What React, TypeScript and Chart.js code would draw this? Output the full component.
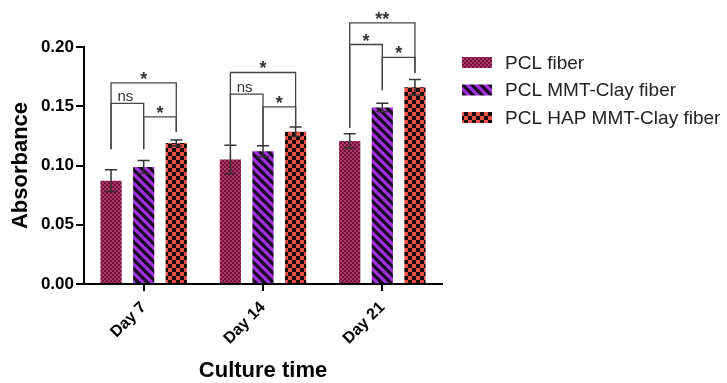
import React, { useEffect, useRef } from "react";
import { Chart, registerables } from "chart.js";

Chart.register(...registerables);

const CATEGORIES = ["Day 7", "Day 14", "Day 21"];
const SERIES_LABELS = ["PCL fiber", "PCL MMT-Clay fiber", "PCL HAP MMT-Clay fiber"];
const PCL_FIBER = [0.0872, 0.105, 0.1207];
const PCL_MMT = [0.0988, 0.112, 0.149];
const PCL_HAP = [0.119, 0.1285, 0.166];
const SD_PCL_FIBER = [0.0093, 0.012, 0.006];
const SD_PCL_MMT = [0.0055, 0.0047, 0.0035];
const SD_PCL_HAP = [0.0025, 0.004, 0.0066];
const Y_TICKS = [0, 0.05, 0.1, 0.15, 0.2];

// significance brackets (day index, from series, to series, level, label)
const BRACKET_DAY = [0, 0, 0, 1, 1, 1, 2, 2, 2];
const BRACKET_FROM = [0, 0, 1, 0, 0, 1, 0, 0, 1];
const BRACKET_TO = [2, 1, 2, 2, 1, 2, 2, 1, 2];
const BRACKET_LEVEL = [0.1697, 0.1524, 0.1411, 0.1785, 0.1602, 0.1495, 0.2203, 0.2021, 0.1912];
const BRACKET_LABEL = ["*", "ns", "*", "*", "ns", "*", "**", "*", "*"];
const LEG_BOTTOM_DAY7 = [0.1138, 0.1138, 0.1284];
const LEG_BOTTOM_DAY14 = [0.1172, 0.1172, 0.1332];
const LEG_BOTTOM_DAY21 = [0.1318, 0.1636, 0.1782];

const FONT = "'Liberation Sans', Arial, Helvetica, sans-serif";

function makePattern(kind: string): CanvasPattern | string {
  const c = document.createElement("canvas");
  const ctx = c.getContext("2d");
  if (!ctx) return "#888";
  if (kind === "fine") {
    c.width = 4; c.height = 4;
    ctx.fillStyle = "#6e0e3b";
    ctx.fillRect(0, 0, 4, 4);
    ctx.fillStyle = "#b3356a";
    ctx.fillRect(0, 0, 2, 2);
    ctx.fillRect(2, 2, 2, 2);
  } else if (kind === "stripe") {
    const s = 9;
    c.width = s; c.height = s;
    ctx.fillStyle = "#a32fe0";
    ctx.fillRect(0, 0, s, s);
    ctx.strokeStyle = "#1a0a22";
    ctx.lineWidth = 3.2;
    for (let k = -1; k <= 1; k++) {
      ctx.beginPath();
      ctx.moveTo(k * s - 2, -2);
      ctx.lineTo(k * s + s + 2, s + 2);
      ctx.stroke();
    }
  } else {
    c.width = 8; c.height = 8;
    ctx.fillStyle = "#ea4f47";
    ctx.fillRect(0, 0, 8, 8);
    ctx.fillStyle = "#1a0505";
    ctx.fillRect(0, 0, 4, 4);
    ctx.fillRect(4, 4, 4, 4);
  }
  return ctx.createPattern(c, "repeat") || "#888";
}

export default function App() {
  const ref = useRef<HTMLCanvasElement | null>(null);

  useEffect(() => {
    if (!ref.current) return;
    const patterns = [makePattern("fine"), makePattern("stripe"), makePattern("check")];
    const values = [PCL_FIBER, PCL_MMT, PCL_HAP];
    const sds = [SD_PCL_FIBER, SD_PCL_MMT, SD_PCL_HAP];
    const legBottoms = [LEG_BOTTOM_DAY7, LEG_BOTTOM_DAY14, LEG_BOTTOM_DAY21];

    const errorBars = {
      id: "errorBars",
      afterDatasetsDraw(chart: any) {
        const ctx = chart.ctx;
        const y = chart.scales.y;
        ctx.save();
        ctx.strokeStyle = "#333";
        ctx.lineWidth = 1.5;
        for (let d = 0; d < values.length; d++) {
          const meta = chart.getDatasetMeta(d);
          meta.data.forEach((bar: any, i: number) => {
            const v = values[d][i];
            const e = sds[d][i];
            const yt = y.getPixelForValue(v + e);
            const yb = y.getPixelForValue(v - e);
            const x = bar.x;
            ctx.beginPath();
            ctx.moveTo(x, yt); ctx.lineTo(x, yb);
            ctx.moveTo(x - 6, yt); ctx.lineTo(x + 6, yt);
            ctx.moveTo(x - 6, yb); ctx.lineTo(x + 6, yb);
            ctx.stroke();
          });
        }
        ctx.restore();
      },
    };

    const brackets = {
      id: "brackets",
      afterDraw(chart: any) {
        const ctx = chart.ctx;
        const y = chart.scales.y;
        ctx.save();
        ctx.strokeStyle = "#444";
        ctx.fillStyle = "#333";
        ctx.lineWidth = 1.3;
        for (let b = 0; b < BRACKET_DAY.length; b++) {
          const day = BRACKET_DAY[b];
          const f = BRACKET_FROM[b];
          const t = BRACKET_TO[b];
          const x1 = chart.getDatasetMeta(f).data[day].x;
          const x2 = chart.getDatasetMeta(t).data[day].x;
          const yl = y.getPixelForValue(BRACKET_LEVEL[b]);
          const yb1 = y.getPixelForValue(legBottoms[day][f]);
          const yb2 = y.getPixelForValue(legBottoms[day][t]);
          ctx.beginPath();
          ctx.moveTo(x1, yb1);
          ctx.lineTo(x1, yl);
          ctx.lineTo(x2, yl);
          ctx.lineTo(x2, yb2);
          ctx.stroke();
          const lab = BRACKET_LABEL[b];
          ctx.textAlign = "center";
          ctx.textBaseline = "alphabetic";
          if (lab === "ns") {
            ctx.font = `15px ${FONT}`;
            ctx.fillText(lab, (x1 + x2) / 2 - 2, yl - 2);
          } else {
            ctx.font = `bold 18px ${FONT}`;
            ctx.fillText(lab, (x1 + x2) / 2, yl + 2);
          }
        }
        ctx.restore();
      },
    };

    const legend = {
      id: "sideLegend",
      afterDraw(chart: any) {
        const ctx = chart.ctx;
        const left = chart.chartArea.right + 20;
        ctx.save();
        chart.data.datasets.forEach((ds: any, i: number) => {
          const cy = 62.5 + i * 27.5;
          ctx.fillStyle = ds.backgroundColor;
          ctx.fillRect(left, cy - 5.5, 30, 11);
          ctx.fillStyle = "#222";
          ctx.font = `19px ${FONT}`;
          ctx.textAlign = "left";
          ctx.textBaseline = "middle";
          ctx.fillText(ds.label, left + 43, cy + 1);
        });
        ctx.restore();
      },
    };

    const chart = new Chart(ref.current, {
      type: "bar",
      data: {
        labels: CATEGORIES,
        datasets: values.map((v, i) => ({
          label: SERIES_LABELS[i],
          data: v,
          backgroundColor: patterns[i] as any,
          borderWidth: 0,
          categoryPercentage: 0.82,
          barPercentage: 0.65,
        })),
      },
      options: {
        responsive: false,
        animation: false,
        devicePixelRatio: 1,
        layout: { padding: { top: 47, right: 285, left: 0, bottom: 0 } },
        plugins: {
          legend: { display: false },
          tooltip: { enabled: false },
        },
        scales: {
          x: {
            type: "category",
            offset: true,
            grid: {
              offset: false,
              drawOnChartArea: false,
              drawTicks: true,
              tickLength: 7,
              color: "#000",
              lineWidth: 2,
            },
            border: { display: true, color: "#000", width: 2 },
            ticks: {
              color: "#000",
              font: { family: FONT, size: 16, weight: "bold" },
              minRotation: 45,
              maxRotation: 45,
              padding: 7,
            },
            title: {
              display: true,
              text: "Culture time",
              color: "#000",
              font: { family: FONT, size: 22, weight: "bold", lineHeight: 1.1 },
              padding: { top: 0, bottom: 0 },
            },
            afterFit: (s: any) => { s.height = 99; },
          },
          y: {
            min: 0,
            max: 0.2,
            afterBuildTicks: (s: any) => { s.ticks = Y_TICKS.map((v) => ({ value: v })); },
            grid: {
              drawOnChartArea: false,
              drawTicks: true,
              tickLength: 8,
              color: "#000",
              lineWidth: 2,
            },
            border: { display: true, color: "#000", width: 2 },
            ticks: {
              color: "#000",
              font: { family: FONT, size: 17, weight: "bold" },
              padding: 2,
              callback: (v: any) => Number(v).toFixed(2),
            },
            title: {
              display: true,
              text: "Absorbance",
              color: "#000",
              font: { family: FONT, size: 22, weight: "bold" },
              padding: { top: 8, bottom: 0 },
            },
            afterFit: (s: any) => { s.width = 84; },
          },
        },
      },
      plugins: [errorBars, brackets, legend],
    });
    return () => chart.destroy();
  }, []);

  return (
    <div style={{ position: "absolute", left: 0, top: 0, width: 727, height: 383, background: "#fff" }}>
      <canvas ref={ref} width={727} height={383} style={{ display: "block" }} />
    </div>
  );
}
